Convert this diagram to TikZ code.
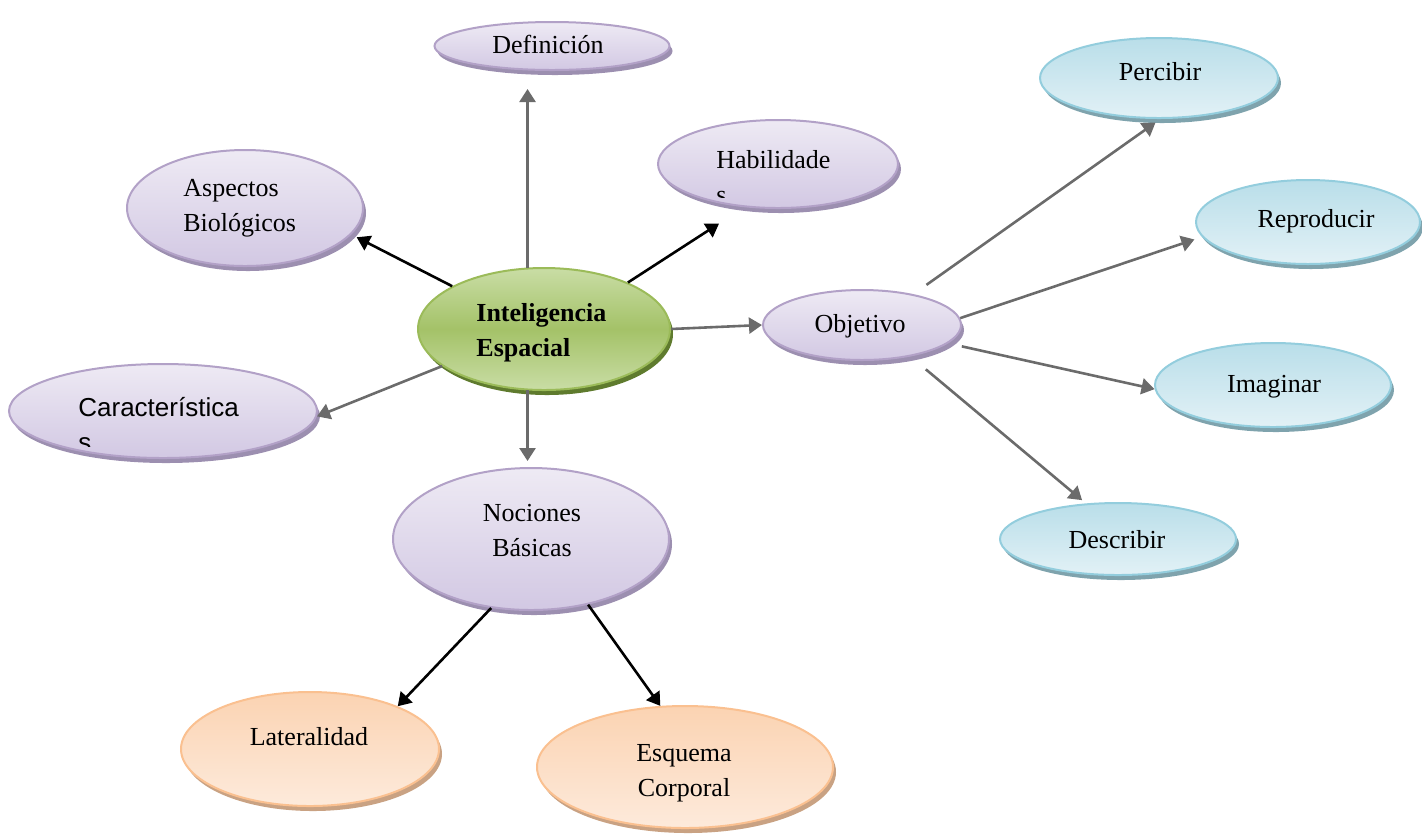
\documentclass[tikz,border=0pt]{standalone}
\usepackage{fontspec}
\setmainfont{Liberation Serif}
\newfontfamily\arialfont{Liberation Sans}
\usepackage{tikz}
\usetikzlibrary{shapes.geometric}
\usetikzlibrary{shadows}
\usetikzlibrary{arrows.meta}

\definecolor{lavline}{HTML}{B2A1C7}
\definecolor{lavtop}{HTML}{EEEAF4}
\definecolor{lavbot}{HTML}{D2C8E3}
\definecolor{lavshade}{HTML}{9C8FB0}
\definecolor{grnline}{HTML}{9BBB59}
\definecolor{grntop}{HTML}{C9DDA5}
\definecolor{grnmid}{HTML}{A4C268}
\definecolor{grnshade}{HTML}{5F7B2E}
\definecolor{orgline}{HTML}{FAC090}
\definecolor{orgtop}{HTML}{FBD3B2}
\definecolor{orgbot}{HTML}{FDEADB}
\definecolor{orgshade}{HTML}{C9A283}
\definecolor{bluline}{HTML}{93CDDD}
\definecolor{blutop}{HTML}{B9DEE9}
\definecolor{blubot}{HTML}{E2F1F6}
\definecolor{blushade}{HTML}{7FA3AD}
\definecolor{arrowgray}{HTML}{6B6B6B}

\tikzset{
  bubble/.style={ellipse, line width=1pt, inner sep=0pt},
  lav/.style={bubble, draw=lavline, top color=lavtop, bottom color=lavbot,
    general shadow={fill=lavshade, shadow xshift=1.5pt, shadow yshift=-2.5pt}},
  grn/.style={bubble, draw=grnline, top color=grntop, bottom color=grntop, middle color=grnmid,
    general shadow={fill=grnshade, shadow xshift=1.5pt, shadow yshift=-2.5pt}},
  org/.style={bubble, draw=orgline, top color=orgtop, bottom color=orgbot,
    general shadow={fill=orgshade, shadow xshift=1.5pt, shadow yshift=-2.5pt}},
  blu/.style={bubble, draw=bluline, top color=blutop, bottom color=blubot,
    general shadow={fill=blushade, shadow xshift=1.5pt, shadow yshift=-2.5pt}},
  txt/.style={font=\fontsize{13}{17.5}\selectfont, inner sep=0pt},
  garrow/.style={draw=arrowgray, line width=1.3pt, -{Triangle[length=6.5pt,width=8pt]}},
  barrow/.style={draw=black, line width=1.3pt, -{Triangle[length=6.5pt,width=8pt]}}
}

\begin{document}
\begin{tikzpicture}[x=0.5pt,y=-0.5pt]
\useasboundingbox (0,0) rectangle (1422,837);

% bubbles
\node[lav, minimum width=117.5pt, minimum height=24pt] (def) at (552,46) {};
\node[lav, minimum width=118pt, minimum height=58pt] (asp) at (245,208) {};
\node[lav, minimum width=120pt, minimum height=44pt] (hab) at (778,164) {};
\node[grn, minimum width=126pt, minimum height=61pt] (ie) at (544,329) {};
\node[lav, minimum width=99pt, minimum height=35pt] (obj) at (862,325) {};
\node[lav, minimum width=154pt, minimum height=47pt] (car) at (163,411) {};
\node[lav, minimum width=138pt, minimum height=71pt] (noc) at (531,539) {};
\node[org, minimum width=129pt, minimum height=57pt] (lat) at (310,749) {};
\node[org, minimum width=148pt, minimum height=61pt] (esq) at (685,767) {};
\node[blu, minimum width=119pt, minimum height=40pt] (per) at (1159,78) {};
\node[blu, minimum width=112pt, minimum height=42pt] (rep) at (1308,222) {};
\node[blu, minimum width=118pt, minimum height=42pt] (ima) at (1273,385) {};
\node[blu, minimum width=118pt, minimum height=36pt] (des) at (1118,539) {};

% texts
\node[txt, anchor=base] (t-def) at (548,53) {Definición};
\node[txt, anchor=west, align=left] (t-asp) at (183,208) {Aspectos\\Biológicos};
\begin{scope}
  \clip (700,140) rectangle (860,197);
  \node[txt, anchor=west, align=left] (t-hab) at (716,177) {Habilidade\\s};
\end{scope}
\node[txt, anchor=west, align=left, font=\fontsize{13}{17.5}\selectfont\bfseries] (t-ie) at (476,333) {Inteligencia\\Espacial};
\node[txt, anchor=base] (t-obj) at (860,332) {Objetivo};
\begin{scope}
  \clip (60,390) rectangle (270,446);
  \node[txt, anchor=west, align=left, font=\fontsize{13}{17.5}\arialfont] (t-car) at (78,425) {Característica\\s};
\end{scope}
\node[txt, align=center] (t-noc) at (532,531) {Nociones\\Básicas};
\node[txt, anchor=base] (t-lat) at (309,745) {Lateralidad};
\node[txt, align=center] (t-esq) at (684,773) {Esquema\\Corporal};
\node[txt, anchor=base] (t-per) at (1160,80) {Percibir};
\node[txt, anchor=base] (t-rep) at (1316,227) {Reproducir};
\node[txt, anchor=base] (t-ima) at (1274,392) {Imaginar};
\node[txt, anchor=base] (t-des) at (1117,548) {Describir};

% connectors
\draw[garrow, shorten >=9pt] (ie.105) -- (ie.105 |- def.south);
\draw[barrow, shorten >=3pt] (ie.155) -- (asp.-14);
\draw[barrow, shorten >=15pt] (ie.29) -- (hab.232);
\draw[garrow] (ie.east) -- (obj.west);
\draw[garrow] (ie.200) -- (car.-2);
\draw[garrow, shorten >=3pt] (ie.255) -- (ie.255 |- noc.north);
\draw[barrow] (noc.240) -- (lat.26);
\draw[barrow] (noc.-49) -- (esq.112);
\draw[garrow, shorten <=8pt, shorten >=3pt] (obj.31) -- (per.-88);
\draw[garrow, shorten >=4pt] (obj.4) -- (rep.188);
\draw[garrow, shorten <=7pt] (obj.-12) -- (ima.182);
\draw[garrow, shorten <=10pt, shorten >=2.5pt] (obj.-33) -- (des.132);
\end{tikzpicture}
\end{document}
